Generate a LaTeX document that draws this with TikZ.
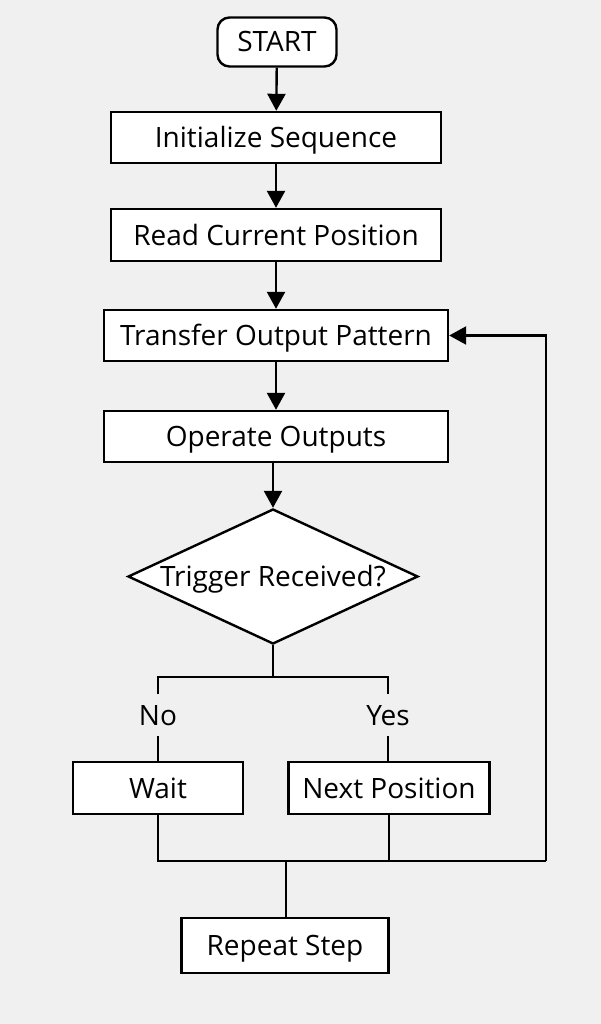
\documentclass[tikz,border=0pt]{standalone}
\usepackage{fontspec}
\setmainfont{Open Sans}
\usetikzlibrary{arrows.meta,shapes.geometric}

\begin{document}
\begin{tikzpicture}[x=1pt,y=-1pt,line width=2.4pt,
  box/.style={draw,fill=white,inner sep=0pt,minimum height=51pt,text height=20pt,text depth=0pt,font=\fontsize{28}{32}\selectfont},
  conn/.style={-{Triangle[length=17pt,width=18pt]}}]
\fill[black!6] (0,0) rectangle (601,1024);
\useasboundingbox (0,0) rectangle (601,1024);
\node[box,rounded corners=12pt,minimum width=119pt,minimum height=49pt] (start) at (277,42) {START};
\node[box,minimum width=330pt] (init) at (276,137.5) {Initialize Sequence};
\node[box,minimum width=330pt,minimum height=52pt] (read) at (276,235) {Read Current Position};
\node[box,minimum width=344pt] (transfer) at (276,335.5) {Transfer Output Pattern};
\node[box,minimum width=344pt] (operate) at (276,436.5) {Operate Outputs};
\node[box,diamond,aspect=2.15,minimum width=290pt,minimum height=135pt] (trig) at (273,576.5) {Trigger Received?};
\node[box,draw=none,fill=none,minimum height=40pt] (no) at (158,715) {No};
\node[box,draw=none,fill=none,minimum height=40pt] (yes) at (388,715) {Yes};
\node[box,minimum width=170pt,minimum height=52pt] (wait) at (158,788) {Wait};
\node[box,minimum width=201pt,minimum height=52pt] (next) at (389,788) {Next Position};
\node[box,minimum width=207pt,minimum height=55pt] (repeat) at (285,945.5) {Repeat Step};
\coordinate (split) at (273,677);
\coordinate (join) at (286,861);
\coordinate (back) at (546,861);
% main sequence
\draw[conn] (start) -- (init);
\draw[conn] (init) -- (read);
\draw[conn] (read) -- (transfer);
\draw[conn] (transfer) -- (operate);
\draw[conn] (operate.south -| trig.north) -- (trig.north);
% branches
\draw (trig.south) -- (split);
\draw (no.north) |- (split) -| (yes.north);
\draw (no.south) -- (wait.north);
\draw (yes.south) -- (yes.south |- next.north);
\draw (wait.south) |- (back);
\draw (next.south) -- (next.south |- back);
\draw[conn] (back) |- (transfer.east);
\draw (join) -- (join |- repeat.north);
\end{tikzpicture}
\end{document}
